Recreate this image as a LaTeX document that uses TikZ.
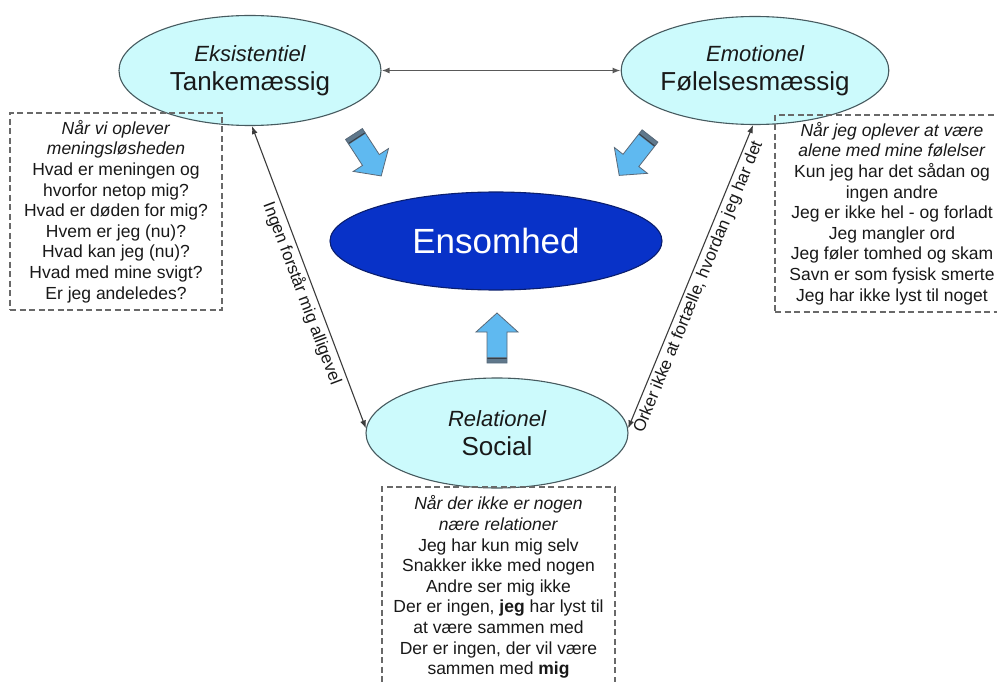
\documentclass[tikz,border=0pt]{standalone}
\usepackage{fontspec}
\setmainfont{Liberation Sans}
\usetikzlibrary{shapes.geometric,arrows.meta}

\definecolor{bubble}{RGB}{204,250,252}
\definecolor{bubbleline}{RGB}{70,90,95}
\definecolor{corefill}{RGB}{8,50,200}
\definecolor{coreline}{RGB}{10,30,110}
\definecolor{arrowfill}{RGB}{95,185,240}
\definecolor{arrowline}{RGB}{90,105,120}
\definecolor{arrowband}{RGB}{95,120,140}
\definecolor{ink}{RGB}{25,25,25}
\definecolor{dashgray}{RGB}{105,105,105}
\definecolor{linkgray}{RGB}{60,60,60}

\begin{document}
\begin{tikzpicture}[x=1pt,y=-1pt,
  every node/.style={text=ink},
  bubblenode/.style={ellipse, draw=bubbleline, line width=1.1pt, fill=bubble,
    inner sep=0pt, align=center, font=\fontsize{26}{29}\selectfont},
  notebox/.style={draw=dashgray, dash pattern=on 6pt off 3.5pt, line width=1.2pt,
    align=center, inner sep=0pt, font=\fontsize{17.5}{20.6}\selectfont},
  link/.style={draw=linkgray, line width=1.1pt, >={Latex[length=8pt,width=6pt]}, <->},
  linklabel/.style={sloped, below, font=\fontsize{17}{20}\selectfont, inner sep=3pt},
  blockarrow/.pic={
    \fill[arrowfill] (0,-10) -- (31,-10) -- (31,-21) -- (50,0) -- (31,21) -- (31,10) -- (0,10) -- cycle;
    \fill[arrowband] (0,-10) rectangle (6,10);
    \draw[arrowline!60!black, line width=1pt] (5,-10) -- (5,10);
    \draw[arrowline, line width=0.8pt, line join=miter]
      (0,-10) -- (31,-10) -- (31,-21) -- (50,0) -- (31,21) -- (31,10) -- (0,10) -- cycle;
  }
]
\clip (0,0) rectangle (997,682);
\fill[white] (0,0) rectangle (997,682);

% the three dimensions of loneliness
\node[bubblenode, minimum width=262pt, minimum height=110pt] (tl) at (250,70.5)
  {{\fontsize{22}{29}\selectfont\itshape Eksistentiel}\\Tankemæssig};
\node[bubblenode, minimum width=260pt, minimum height=108pt] (tr) at (755,70.5)
  {{\fontsize{22}{29}\selectfont\itshape Emotionel}\\Følelsesmæssig};
\node[bubblenode, minimum width=262pt, minimum height=110pt] (bot) at (497,433)
  {{\fontsize{22}{29}\selectfont\itshape Relationel}\\Social};

% the centre
\node[ellipse, draw=coreline, line width=1.1pt, fill=corefill, minimum width=332pt,
  minimum height=98pt, inner sep=0pt, text=white, font=\fontsize{35}{40}\selectfont]
  (core) at (496,241) {Ensomhed};

% links between the dimensions
\draw[link, line width=1.6pt, draw=gray!70!black] (tl.east) -- (tr.west);
\draw[link] (tl.-88) -- node[linklabel, pos=0.54] {Ingen forstår mig alligevel} (bot.178);
\draw[link] (bot.2) -- node[linklabel, pos=0.48] {Orker ikke at fortælle, hvordan jeg har det} (tr.-92);

% block arrows towards the centre
\pic[rotate=-57] at (354,134) {blockarrow};
\pic[rotate=-128] at (650,136) {blockarrow};
\pic[rotate=90] at (497,363) {blockarrow};

% notes
\node[notebox, minimum width=212pt, minimum height=197pt] (noteleft) at (116,211.5)
  {\textit{Når vi oplever}\\ \textit{meningsløsheden}\\ Hvad er meningen og\\
   hvorfor netop mig?\\ Hvad er døden for mig?\\ Hvem er jeg (nu)?\\
   Hvad kan jeg (nu)?\\ Hvad med mine svigt?\\ Er jeg andeledes?};
\node[notebox, minimum width=234pt, minimum height=197pt] (noteright) at (892,213.5)
  {\textit{Når jeg oplever at være}\\ \textit{alene med mine følelser}\\
   Kun jeg har det sådan og\\ ingen andre\\ Jeg er ikke hel - og forladt\\
   Jeg mangler ord\\ Jeg føler tomhed og skam\\ Savn er som fysisk smerte\\
   Jeg har ikke lyst til noget};
\node[notebox, minimum width=233pt, minimum height=200pt] (notebottom) at (498.5,587)
  {\textit{Når der ikke er nogen}\\ \textit{nære relationer}\\ Jeg har kun mig selv\\
   Snakker ikke med nogen\\ Andre ser mig ikke\\ Der er ingen, \textbf{jeg} har lyst til\\
   at være sammen med\\ Der er ingen, der vil være\\ sammen med \textbf{mig}};
\end{tikzpicture}
\end{document}
